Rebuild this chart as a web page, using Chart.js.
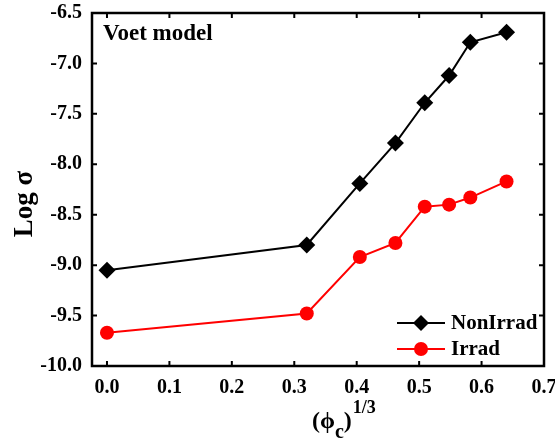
<!DOCTYPE html>
<html>
<head>
<meta charset="utf-8">
<script src="https://cdn.jsdelivr.net/npm/chart.js@4"></script>
<style>
  html, body { margin: 0; padding: 0; background: #fff; }
  #wrap { width: 555px; height: 441px; }
</style>
</head>
<body>
<div id="wrap"><canvas id="myChart"></canvas></div>
<script>
// data
const phiCubeRoot = [0.0, 0.32, 0.405, 0.462, 0.509, 0.548, 0.582, 0.640];
const nonIrrad = [-9.05, -8.80, -8.19, -7.79, -7.39, -7.12, -6.79, -6.69];
const irrad = [-9.67, -9.48, -8.92, -8.78, -8.42, -8.40, -8.33, -8.17];
const xTicks = [0.0, 0.1, 0.2, 0.3, 0.4, 0.5, 0.6, 0.7];
const yTicks = [-10.0, -9.5, -9.0, -8.5, -8.0, -7.5, -7.0, -6.5];

const FONT = "'Liberation Serif', 'Times New Roman', serif";

function pairs(xs, ys) {
  return xs.map(function (x, i) { return { x: x, y: ys[i] }; });
}

// frame, inward ticks, titles and legend
const decor = {
  id: 'decor',
  afterDraw(chart) {
    const ctx = chart.ctx;
    const a = chart.chartArea;
    const xs = chart.scales.x, ys = chart.scales.y;
    ctx.save();
    ctx.strokeStyle = '#000';
    ctx.lineWidth = 2.5;
    ctx.strokeRect(a.left, a.top, a.right - a.left, a.bottom - a.top);
    ctx.lineWidth = 2;
    const t = 5;
    xTicks.forEach(function (v) {
      const px = xs.getPixelForValue(v);
      ctx.beginPath();
      ctx.moveTo(px, a.bottom); ctx.lineTo(px, a.bottom - t);
      ctx.moveTo(px, a.top); ctx.lineTo(px, a.top + t);
      ctx.stroke();
    });
    yTicks.forEach(function (v) {
      const py = ys.getPixelForValue(v);
      ctx.beginPath();
      ctx.moveTo(a.left, py); ctx.lineTo(a.left + t, py);
      ctx.moveTo(a.right, py); ctx.lineTo(a.right - t, py);
      ctx.stroke();
    });

    // annotation
    ctx.fillStyle = '#000';
    ctx.font = 'bold 23px ' + FONT;
    ctx.textAlign = 'left';
    ctx.textBaseline = 'middle';
    ctx.fillText('Voet model', a.left + 11, 34);

    // y title
    ctx.save();
    ctx.translate(32, 204);
    ctx.rotate(-Math.PI / 2);
    ctx.font = 'bold 27px ' + FONT;
    ctx.textAlign = 'center';
    ctx.textBaseline = 'alphabetic';
    ctx.fillText('Log \u03c3', 0, 0);
    ctx.restore();

    // x title (phi_c)^(1/3)
    ctx.textAlign = 'left';
    ctx.textBaseline = 'alphabetic';
    let x = 312;
    ctx.font = 'bold 24px ' + FONT;
    ctx.fillText('(\u03d5', x, 428);
    x += ctx.measureText('(\u03d5').width;
    ctx.font = 'bold 20px ' + FONT;
    ctx.fillText('c', x, 438);
    x += ctx.measureText('c').width;
    ctx.font = 'bold 24px ' + FONT;
    ctx.fillText(')', x, 428);
    x += ctx.measureText(')').width + 1;
    ctx.font = 'bold 18px ' + FONT;
    ctx.fillText('1/3', x, 413);

    // legend
    const items = [
      { label: 'NonIrrad', color: '#000', style: 'rectRot', r: 8, y: 323 },
      { label: 'Irrad', color: '#ff0000', style: 'circle', r: 7, y: 349 }
    ];
    items.forEach(function (it) {
      ctx.strokeStyle = it.color;
      ctx.lineWidth = 2;
      ctx.beginPath();
      ctx.moveTo(397, it.y); ctx.lineTo(445, it.y);
      ctx.stroke();
      ctx.fillStyle = it.color;
      ctx.beginPath();
      if (it.style === 'circle') {
        ctx.arc(421, it.y, it.r, 0, Math.PI * 2);
      } else {
        ctx.moveTo(421, it.y - it.r); ctx.lineTo(421 + it.r, it.y);
        ctx.lineTo(421, it.y + it.r); ctx.lineTo(421 - it.r, it.y);
        ctx.closePath();
      }
      ctx.fill();
      ctx.fillStyle = '#000';
      ctx.font = 'bold 21px ' + FONT;
      ctx.textAlign = 'left';
      ctx.textBaseline = 'middle';
      ctx.fillText(it.label, 451, it.y + 1);
    });
    ctx.restore();
  }
};

const ctx = document.getElementById('myChart');

new Chart(ctx, {
  type: 'line',
  data: {
    datasets: [{
      label: 'NonIrrad',
      data: pairs(phiCubeRoot, nonIrrad),
      borderColor: '#000',
      backgroundColor: '#000',
      borderWidth: 2,
      pointStyle: 'rectRot',
      pointRadius: 8.5,
      pointBorderWidth: 0,
      tension: 0
    }, {
      label: 'Irrad',
      data: pairs(phiCubeRoot, irrad),
      borderColor: '#ff0000',
      backgroundColor: '#ff0000',
      borderWidth: 2,
      pointStyle: 'circle',
      pointRadius: 7,
      pointBorderWidth: 0,
      tension: 0
    }]
  },
  options: {
    responsive: true,
    maintainAspectRatio: false,
    animation: false,
    layout: { padding: { left: 0, right: 11, top: 13, bottom: 0 } },
    plugins: {
      legend: { display: false },
      tooltip: { enabled: false }
    },
    scales: {
      x: {
        type: 'linear',
        min: -0.024,
        max: 0.7,
        afterBuildTicks: function (axis) {
          axis.ticks = xTicks.map(function (v) { return { value: v }; });
        },
        afterFit: function (axis) {
          axis.height = 75;
          axis.paddingLeft = 0;
          axis.paddingRight = 0;
        },
        grid: { display: false, drawTicks: false },
        border: { display: false },
        ticks: {
          padding: 10,
          color: '#000',
          font: { family: FONT, size: 20, weight: 'bold' },
          callback: function (v) { return v.toFixed(1); }
        }
      },
      y: {
        type: 'linear',
        min: -10,
        max: -6.5,
        afterBuildTicks: function (axis) {
          axis.ticks = yTicks.map(function (v) { return { value: v }; });
        },
        afterFit: function (axis) {
          axis.width = 92;
          axis.paddingTop = 0;
          axis.paddingBottom = 0;
        },
        grid: { display: false, drawTicks: false },
        border: { display: false },
        ticks: {
          padding: 10,
          color: '#000',
          font: { family: FONT, size: 20, weight: 'bold' },
          callback: function (v) { return v.toFixed(1); }
        }
      }
    }
  },
  plugins: [decor]
});
</script>
</body>
</html>
